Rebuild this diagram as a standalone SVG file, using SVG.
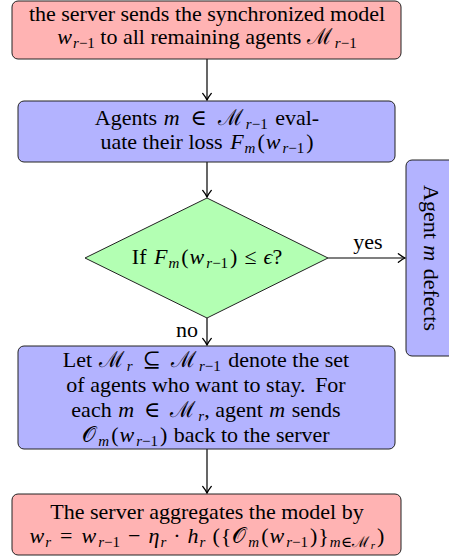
<svg xmlns="http://www.w3.org/2000/svg" width="449" height="559" viewBox="0 0 449 559">
<style>
.t{font-family:"Liberation Serif","DejaVu Serif",serif;font-size:22px;fill:#000}
.i{font-style:italic}
.s{font-size:15px}
.ss{font-size:11px}
.box{stroke:#222;stroke-width:1}
.red{fill:#ffb3b3}
.blue{fill:#b3b3ff}
.green{fill:#b3ffb3}
.c{stroke:#000;stroke-width:1.2;fill:none}
</style>
<defs>
<marker id="arr" markerUnits="userSpaceOnUse" markerWidth="12" markerHeight="12" viewBox="-7 -5 8 10" refX="0" refY="0" orient="auto">
<path d="M-5.5,-3.6 Q-2,-0.8 0,0 Q-2,0.8 -5.5,3.6" fill="none" stroke="#000" stroke-width="1.1" stroke-linecap="round"/>
</marker>
</defs>
<g id="connectors">
<line class="c" x1="207" y1="59" x2="207" y2="100" marker-end="url(#arr)"/>
<line class="c" x1="207" y1="162" x2="207" y2="197" marker-end="url(#arr)"/>
<line class="c" x1="328" y1="258" x2="405" y2="258" marker-end="url(#arr)"/>
<line class="c" x1="207" y1="318" x2="207" y2="345" marker-end="url(#arr)"/>
<line class="c" x1="207" y1="449" x2="207" y2="493" marker-end="url(#arr)"/>
<text class="t" x="368" y="249" text-anchor="middle">yes</text>
<text class="t" x="198" y="337" text-anchor="end">no</text>
</g>
<g id="node-sync">
<rect class="box red" x="12" y="1" width="389" height="58" rx="6"/>
<text class="t" x="207" y="21" text-anchor="middle">the server sends the synchronized model</text>
<text class="t" x="207" y="44" text-anchor="middle"><tspan class="i">w</tspan><tspan class="s" dy="4" dx="1"><tspan class="i">r</tspan>−1</tspan><tspan dy="-4"> to all remaining agents </tspan><tspan>ℳ</tspan><tspan class="s" dy="4" dx="3"><tspan class="i">r</tspan>−1</tspan></text>
</g>
<g id="node-evaluate">
<rect class="box blue" x="18" y="101" width="377" height="61" rx="6"/>
<text class="t" x="207" y="125" text-anchor="middle">Agents <tspan class="i" dx="1">m</tspan><tspan dx="11">∈</tspan><tspan dx="11">ℳ</tspan><tspan class="s" dy="4" dx="3"><tspan class="i">r</tspan>−1</tspan><tspan dy="-4" dx="2"> eval-</tspan></text>
<text class="t" x="207" y="149" text-anchor="middle">uate their loss <tspan class="i" dx="2">F</tspan><tspan class="s i" dy="4" dx="1">m</tspan><tspan dy="-4" dx="2">(</tspan><tspan class="i" dx="1">w</tspan><tspan class="s" dy="4" dx="2"><tspan class="i">r</tspan>−1</tspan><tspan dy="-4" dx="2">)</tspan></text>
</g>
<g id="node-decision">
<polygon class="box green" points="207,198 328,258 207,318 85,258"/>
<text class="t" x="207" y="264" text-anchor="middle">If <tspan class="i" dx="2">F</tspan><tspan class="s i" dy="4" dx="1">m</tspan><tspan dy="-4" dx="2">(</tspan><tspan class="i" dx="1">w</tspan><tspan class="s" dy="4" dx="2"><tspan class="i">r</tspan>−1</tspan><tspan dy="-4" dx="2">)</tspan><tspan dx="7">≤</tspan><tspan class="i" dx="7">ϵ</tspan>?</text>
</g>
<g id="node-defects">
<rect class="box blue" x="406" y="160" width="52" height="196" rx="6"/>
<text class="t" transform="translate(431,258) rotate(90)" x="0" y="7" text-anchor="middle">Agent <tspan class="i" dx="1">m</tspan><tspan dx="2"> defects</tspan></text>
</g>
<g id="node-stay">
<rect class="box blue" x="18" y="346" width="377" height="103" rx="6"/>
<text class="t" x="206" y="367" text-anchor="middle">Let <tspan dx="1">ℳ</tspan><tspan class="s i" dy="4" dx="3">r</tspan><tspan dy="-4" dx="10">⊆</tspan><tspan dx="10">ℳ</tspan><tspan class="s" dy="4" dx="3"><tspan class="i">r</tspan>−1</tspan><tspan dy="-4" dx="2"> denote the set</tspan></text>
<text class="t" x="206" y="392" text-anchor="middle">of agents who want to stay. <tspan dx="4">For</tspan></text>
<text class="t" x="206" y="417" text-anchor="middle">each <tspan class="i" dx="1">m</tspan><tspan dx="10">∈</tspan><tspan dx="10">ℳ</tspan><tspan class="s i" dy="4" dx="3">r</tspan><tspan dy="-4">, agent </tspan><tspan class="i" dx="1">m</tspan><tspan dx="1"> sends</tspan></text>
<text class="t" x="206" y="442" text-anchor="middle"><tspan>𝒪</tspan><tspan class="s i" dy="4" dx="2">m</tspan><tspan dy="-4" dx="2">(</tspan><tspan class="i" dx="1">w</tspan><tspan class="s" dy="4" dx="2"><tspan class="i">r</tspan>−1</tspan><tspan dy="-4" dx="2">)</tspan><tspan dx="1"> back to the server</tspan></text>
</g>
<g id="node-aggregate">
<rect class="box red" x="12" y="494" width="389" height="61" rx="6"/>
<text class="t" x="207" y="519" text-anchor="middle">The server aggregates the model by</text>
<text class="t" x="207" y="543" text-anchor="middle"><tspan class="i">w</tspan><tspan class="s i" dy="4" dx="1">r</tspan><tspan dy="-4" dx="9">=</tspan><tspan class="i" dx="9">w</tspan><tspan class="s" dy="4" dx="2"><tspan class="i">r</tspan>−1</tspan><tspan dy="-4" dx="8">−</tspan><tspan class="i" dx="8">η</tspan><tspan class="s i" dy="4" dx="1">r</tspan><tspan dy="-4" dx="7">·</tspan><tspan class="i" dx="7">h</tspan><tspan class="s i" dy="4" dx="1">r</tspan><tspan dy="-4" dx="7">(</tspan><tspan dx="1">{</tspan><tspan dx="1">𝒪</tspan><tspan class="s i" dy="4" dx="2">m</tspan><tspan dy="-4" dx="2">(</tspan><tspan class="i" dx="1">w</tspan><tspan class="s" dy="4" dx="2"><tspan class="i">r</tspan>−1</tspan><tspan dy="-4" dx="2">)</tspan><tspan dx="1">}</tspan><tspan class="s" dy="4" dx="1"><tspan class="i">m</tspan>∈ℳ</tspan><tspan class="ss i" dy="2" dx="2">r</tspan><tspan dy="-6" dx="2">)</tspan></text>
</g>
</svg>
